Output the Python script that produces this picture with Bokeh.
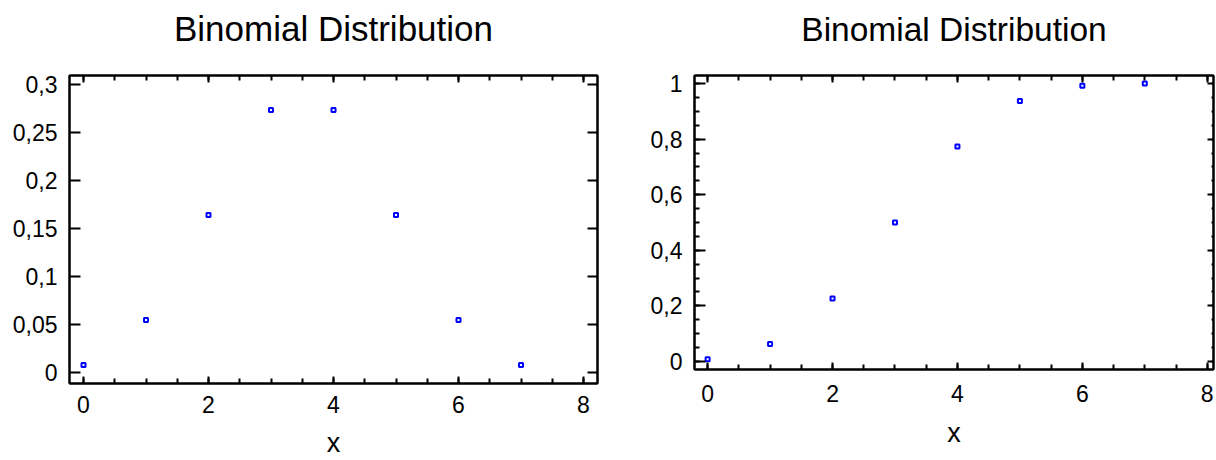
from bokeh.plotting import figure
from bokeh.layouts import row
from bokeh.models import (LinearAxis, SingleIntervalTicker, CustomJSTickFormatter,
                          Range1d)
from bokeh.embed import file_html
from bokeh.resources import INLINE

# Data: Binomial distribution, n=7, p=0.5
x_vals = [0, 1, 2, 3, 4, 5, 6, 7]
pmf_vals = [0.0078, 0.0547, 0.1641, 0.2734, 0.2734, 0.1641, 0.0547, 0.0078]
cdf_vals = [0.0078, 0.0625, 0.2266, 0.5, 0.7734, 0.9375, 0.9922, 1.0]
title_text = "Binomial Distribution"
x_label = "x"

FONT = "Liberation Sans"
comma_fmt = "return (Math.round(tick*1000)/1000).toString().replace('.', ',');"
blank_fmt = "return '';"


def style_axis(ax, tick_in, minor_in, labels=True, lab_size="23px", standoff=12):
    ax.axis_line_width = 2
    ax.axis_line_color = "black"
    ax.major_tick_in = tick_in
    ax.major_tick_out = 0
    ax.minor_tick_in = minor_in
    ax.minor_tick_out = 0
    ax.major_tick_line_width = 2
    ax.minor_tick_line_width = 2
    ax.major_tick_line_color = "black"
    ax.minor_tick_line_color = "black"
    ax.major_label_text_font = FONT
    ax.major_label_text_font_size = lab_size
    ax.major_label_text_color = "black"
    ax.major_label_standoff = standoff if labels else 0


def make(yvals, xr, yr, yint, yminor, width, height, bl, br, bt, bb,
         y_in, y_minor_in, r_in, r_minor_in, title_size, title_standoff,
         xlab_standoff, xstandoff):
    p = figure(width=width, height=height, output_backend="svg",
               toolbar_location=None, x_range=Range1d(*xr), y_range=Range1d(*yr),
               x_axis_type=None, y_axis_type=None,
               min_border_left=bl, min_border_right=br,
               min_border_top=bt, min_border_bottom=bb)
    p.frame_align = False
    p.grid.visible = False
    p.outline_line_color = "black"
    p.outline_line_width = 2
    p.background_fill_color = "white"
    p.border_fill_color = "white"

    xt = SingleIntervalTicker(interval=2, num_minor_ticks=4)
    yt = SingleIntervalTicker(interval=yint, num_minor_ticks=yminor)

    bottom = LinearAxis(ticker=xt)
    style_axis(bottom, 7, 5, standoff=xstandoff)
    bottom.axis_label = x_label
    bottom.axis_label_text_font = FONT
    bottom.axis_label_text_font_size = "27px"
    bottom.axis_label_text_font_style = "normal"
    bottom.axis_label_text_color = "black"
    bottom.axis_label_standoff = xlab_standoff
    p.add_layout(bottom, "below")

    # top axis mirrors ticks and carries the chart title as its label
    top = LinearAxis(ticker=xt, formatter=CustomJSTickFormatter(code=blank_fmt))
    style_axis(top, 7, 5, labels=False)
    top.axis_label = title_text
    top.axis_label_text_font = FONT
    top.axis_label_text_font_size = title_size
    top.axis_label_text_font_style = "normal"
    top.axis_label_text_color = "black"
    top.axis_label_standoff = title_standoff
    p.add_layout(top, "above")

    left = LinearAxis(ticker=yt, formatter=CustomJSTickFormatter(code=comma_fmt))
    style_axis(left, y_in, y_minor_in)
    p.add_layout(left, "left")

    right = LinearAxis(ticker=yt, formatter=CustomJSTickFormatter(code=blank_fmt))
    style_axis(right, r_in, r_minor_in, labels=False)
    p.add_layout(right, "right")

    p.scatter(x_vals, yvals, marker="square", size=4, fill_color=None,
              line_color="#0000FF", line_width=2)
    return p


p1 = make(pmf_vals, (-0.224, 8.224), (-0.0115, 0.3094), 0.05, 0,
          630, 460, 69, 33, 75, 77, 11, 5, 10, 5, "35px", 28, 12, 12)
p2 = make(cdf_vals, (-0.21, 8.1), (-0.0288, 1.0288), 0.2, 4,
          586, 460, 64, 3, 75, 91, 11, 5, 6, 2, "33.5px", 28, 13, 15)

layout = row(p1, p2, spacing=0)
open("out.html", "w").write(file_html(layout, INLINE))
